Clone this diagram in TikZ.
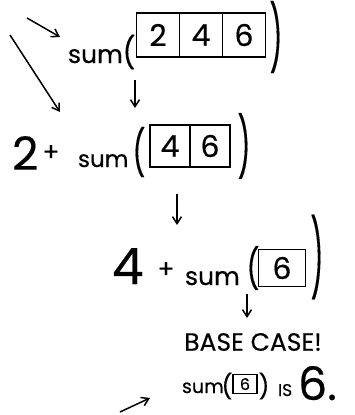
\documentclass[tikz,border=0pt]{standalone}
\usepackage{fontspec}
\setmainfont{Poppins}[FakeBold=0.35]
\usetikzlibrary{positioning,arrows.meta}

% stretched hand-drawn parenthesis
\newcommand{\tallparen}[2]{\scalebox{1}[#1]{#2}}

\begin{document}
\begin{tikzpicture}[
    x=1pt, y=-1pt,
    >={Straight Barb[length=7pt,width=9pt]},
    line width=1.5pt,
    every node/.style={inner sep=0pt, outer sep=0pt},
    word/.style={font=\fontsize{25}{25}\selectfont},
    big/.style={font=\fontsize{46}{46}\selectfont},
    paren/.style={font=\fontsize{28}{28}\selectfont},
    cell/.style={draw, line width=1.3pt, minimum width=43pt,
                 minimum height=44pt, font=\fontsize{30}{30}\selectfont},
    hand/.style={->, line width=1.5pt}
  ]
  \useasboundingbox (0,0) rectangle (355,415);

  % Row 1: sum of the full list.
  \node[word, anchor=base west]          (sum1) at (68,63)   {sum};
  \node[paren]                           (lp1)  at (129,52)  {\tallparen{1.1}{(}};
  \node[cell]                            (a1)   at (158,35)  {2};
  \node[cell, right=0pt of a1]           (a2)              {4};
  \node[cell, right=0pt of a2]           (a3)              {6};
  \node[paren]                           (rp1)  at (276,37)  {\tallparen{2.3}{)}};

  % Row 2: 2 + sum of the rest.
  \node[big, anchor=base west]           (two)  at (12,170)  {2};
  \node[word]                            (plus2) at (51,153) {+};
  \node[word, font=\fontsize{23}{23}\selectfont, anchor=base west]
                                         (sum2) at (78,167)  {sum};
  \node[paren]                           (lp2)  at (139,152) {\tallparen{1.6}{(}};
  \node[cell, minimum width=40pt, minimum height=42pt]
                                         (b1)   at (170,146) {4};
  \node[cell, minimum width=40pt, minimum height=42pt, right=0pt of b1]
                                         (b2)              {6};
  \node[paren]                           (rp2)  at (244,146) {\tallparen{2.1}{)}};

  % Row 3: 4 + sum of the last item.
  \node[big, font=\fontsize{50}{50}\selectfont, anchor=base west]
                                         (four) at (112,284) {4};
  \node[word]                            (plus3) at (166,270) {+};
  \node[word, anchor=base west]          (sum3) at (185,285) {sum};
  \node[paren]                           (lp3)  at (253,268) {\tallparen{1.4}{(}};
  \node[cell, minimum width=47pt, minimum height=37pt]
                                         (c1)   at (282,268) {6};
  \node[paren]                           (rp3)  at (317,257) {\tallparen{2.7}{)}};

  % Base case.
  \node[font=\fontsize{25}{25}\selectfont] (base) at (253,342) {BASE CASE!};
  \node[word, font=\fontsize{19}{19}\selectfont, anchor=base west]
                                         (sum4) at (182,393) {sum};
  \node[paren, font=\fontsize{24}{24}\selectfont]
                                         (lp4)  at (227,386) {(};
  \node[cell, line width=1.1pt, minimum width=24pt, minimum height=19pt,
        font=\fontsize{16}{16}\selectfont]
                                         (d1)   at (245,384) {6};
  \node[paren, font=\fontsize{24}{24}\selectfont]
                                         (rp4)  at (264,386) {)};
  \node[font=\fontsize{17}{17}\selectfont, anchor=base west]
                                         (is)   at (278,396) {IS};
  \node[font=\fontsize{46}{46}\selectfont, anchor=base west]
                                         (six)  at (298,400) {6.};

  % Arrow ends.
  \coordinate (s0a) at (27,18);   \coordinate (s0b) at (60,37);
  \coordinate (l0a) at (10,35);   \coordinate (l0b) at (60,112);
  \coordinate (d1a) at (135,80);  \coordinate (d1b) at (135,108);
  \coordinate (d2a) at (177,194); \coordinate (d2b) at (177,225);
  \coordinate (d3a) at (247,294); \coordinate (d3b) at (247,318);
  \coordinate (upa) at (120,412); \coordinate (upb) at (150,398);

  \draw[hand] (s0a) -- (s0b);
  \draw[hand] (l0a) -- (l0b);
  \draw[hand] (d1a) -- (d1b);
  \draw[hand] (d2a) -- (d2b);
  \draw[hand] (d3a) -- (d3b);
  \draw[hand] (upa) -- (upb);

\end{tikzpicture}
\end{document}
